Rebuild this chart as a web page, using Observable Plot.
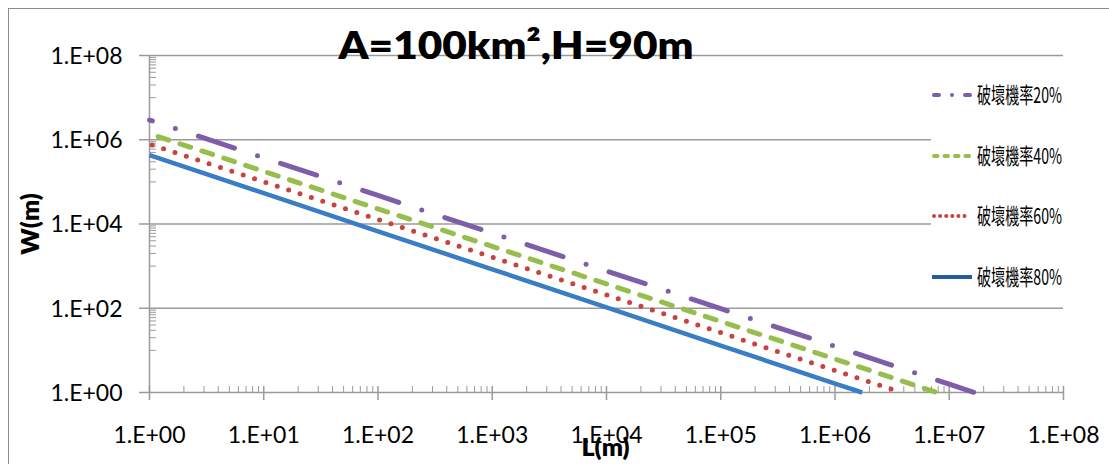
<!DOCTYPE html>
<html>
<head>
<meta charset="utf-8">
<script src="https://cdn.jsdelivr.net/npm/d3@7"></script>
<script src="https://cdn.jsdelivr.net/npm/@observablehq/plot@0.6"></script>
<style>
  html, body { margin: 0; padding: 0; background: #fff; overflow: hidden; }
  #chart { position: relative; width: 1109px; height: 464px; overflow: hidden; }
  #border { position: absolute; left: 8px; top: 8px; width: 1200px; height: 600px;
            border: 1px solid #8c8c8c; box-sizing: border-box; }
  #chart svg { position: absolute; left: 0; top: 0; }
</style>
</head>
<body>
<div id="chart"><div id="border"></div></div>
<script>
// Chart text
const title = "A=100km²,H=90m";
const xLabel = "L(m)";
const yLabel = "W(m)";
const seriesNames = ["破壞機率20%", "破壞機率40%", "破壞機率60%", "破壞機率80%"];

// Length L (m) and width W (m) for each failure probability
const lengths20 = [1, 10, 100, 1e3, 1e4, 1e5, 1e6, 1e7, 1.66e7];
const widths20  = [2.94e6, 3.74e5, 4.75e4, 6.04e3, 767, 97.5, 12.4, 1.57, 1];
const lengths40 = [1, 10, 100, 1e3, 1e4, 1e5, 1e6, 7.8e6];
const widths40  = [1.39e6, 1.78e5, 2.29e4, 2.94e3, 378, 48.6, 6.25, 1];
const lengths60 = [1, 10, 100, 1e3, 1e4, 1e5, 1e6, 3.85e6];
const widths60  = [7.9e5, 1.01e5, 1.28e4, 1.63e3, 207, 26.3, 3.34, 1];
const lengths80 = [1, 10, 100, 1e3, 1e4, 1e5, 1e6, 1.73e6];
const widths80  = [4.3e5, 5.4e4, 6.7e3, 840, 105, 13, 1.63, 1];

// Axis ticks
const xTickValues = [1, 1e1, 1e2, 1e3, 1e4, 1e5, 1e6, 1e7, 1e8];
const xTickLabels = ["1.E+00", "1.E+01", "1.E+02", "1.E+03", "1.E+04", "1.E+05", "1.E+06", "1.E+07", "1.E+08"];
const yTickValues = [1, 1e2, 1e4, 1e6, 1e8];
const yTickLabels = ["1.E+00", "1.E+02", "1.E+04", "1.E+06", "1.E+08"];

// Minor ticks: 2..9 within every decade on x; 1..9 × 10^odd on y
const xMinor = [];
for (let d = 0; d < 8; d++) for (let k = 2; k <= 9; k++) xMinor.push(k * 10 ** d);
const yMinor = [];
for (const n of [1, 3, 5, 7]) for (let k = 1; k <= 9; k++) yMinor.push(k * 10 ** n);

const zip = (ls, ws, name) => ls.map((L, i) => ({L, W: ws[i], series: name}));
const rows20 = zip(lengths20, widths20, seriesNames[0]);
const rows40 = zip(lengths40, widths40, seriesNames[1]);
const rows60 = zip(lengths60, widths60, seriesNames[2]);
const rows80 = zip(lengths80, widths80, seriesNames[3]);

const colors = ["#7f5ea8", "#97bd4d", "#c8423e", "#3b7dc4"];
const legendColors = ["#7f5ea8", "#97bd4d", "#c8423e", "#245c9c"];

const xLabelMap = new Map(xTickValues.map((v, i) => [v, xTickLabels[i]]));
const yLabelMap = new Map(yTickValues.map((v, i) => [v, yTickLabels[i]]));

const grid = "#9b9b9b";

const plot = Plot.plot({
  width: 1109,
  height: 464,
  marginLeft: 149,
  marginRight: 46,
  marginTop: 55,
  marginBottom: 72,
  style: {fontFamily: "Lato, sans-serif", background: "transparent", overflow: "visible", color: "#000"},
  x: {type: "log", domain: [1, 1e8]},
  y: {type: "log", domain: [1, 1e8]},
  marks: [
    // horizontal gridlines (also the major y ticks)
    Plot.ruleY(yTickValues, {y: d => d, x1: 1, x2: 1e8, insetLeft: -10, stroke: grid, strokeWidth: 1.5}),
    // y axis line
    Plot.ruleX([1], {x: d => d, y1: 1, y2: 1e8, stroke: grid, strokeWidth: 1.5}),
    // minor y ticks, inside
    Plot.ruleY(yMinor, {y: d => d, x1: 1, x2: 1, insetRight: -7, stroke: grid, strokeWidth: 1}),
    // major x ticks crossing the axis
    Plot.ruleX(xTickValues, {x: d => d, y1: 1, y2: 1, insetTop: -6, insetBottom: -8, stroke: grid, strokeWidth: 1.5}),
    // minor x ticks, inside
    Plot.ruleX(xMinor, {x: d => d, y1: 1, y2: 1, insetTop: -6, stroke: grid, strokeWidth: 1}),
    Plot.axisY(yTickValues, {tickSize: 0, tickPadding: 27, tickFormat: d => yLabelMap.get(d), fontSize: 23, dy: 1, fill: "#000", label: null}),
    Plot.axisX(xTickValues, {tickSize: 0, tickPadding: 34, tickFormat: d => xLabelMap.get(d), fontSize: 23, fill: "#000", label: null}),
    // series
    Plot.line(rows80, {x: "L", y: "W", stroke: colors[3], strokeWidth: 4.5, strokeLinecap: "butt"}),
    Plot.line(rows60, {x: "L", y: "W", stroke: colors[2], strokeWidth: 5, strokeLinecap: "round",
                       strokeDasharray: "0,11.97", strokeDashoffset: 9.1}),
    Plot.line(rows40, {x: "L", y: "W", stroke: colors[1], strokeWidth: 5, strokeLinecap: "round",
                       strokeDasharray: "11.3,11.74", strokeDashoffset: 14}),
    Plot.line(rows20, {x: "L", y: "W", stroke: colors[0], strokeWidth: 5, strokeLinecap: "round",
                       strokeDasharray: "38,24.25,0,24.25", strokeDashoffset: 35}),
    // titles
    Plot.text([title], {frameAnchor: "top-left", dx: 366.5, dy: -9, textAnchor: "middle", lineAnchor: "middle",
                        fontSize: 38, fontWeight: 800, fill: "#000", className: "chart-title"}),
    Plot.text([xLabel], {frameAnchor: "bottom-left", dx: 456, dy: 55, textAnchor: "middle", lineAnchor: "middle",
                         fontSize: 25, fontWeight: 800, fill: "#000"}),
    Plot.text([yLabel], {frameAnchor: "left", dx: -119, rotate: -90, textAnchor: "middle", lineAnchor: "middle",
                         fontSize: 25, fontWeight: 800, fill: "#000"})
  ]
});

document.getElementById("chart").appendChild(plot);

const svg = d3.select(plot);
// stretch the title to its full printed width
svg.selectAll(".chart-title text").attr("textLength", 355).attr("lengthAdjust", "spacingAndGlyphs");

// Legend drawn on the right, over a white panel
const legend = svg.append("g").attr("class", "legend").attr("text-anchor", "start");
legend.append("rect").attr("x", 931).attr("y", 62).attr("width", 175).attr("height", 238).attr("fill", "#fff");
const legendY = [95, 156, 216, 277];
const legendDash = [
  {dash: "5,13,0,13", cap: "round"},
  {dash: "3.5,7", cap: "round"},
  {dash: "0,6.1", cap: "round"},
  {dash: null, cap: "butt"}
];
seriesNames.forEach((name, i) => {
  const y = legendY[i];
  const round = legendDash[i].cap === "round";
  const line = legend.append("line")
    .attr("x1", round ? 934 : 932).attr("x2", round ? 970 : 972)
    .attr("y1", y).attr("y2", y)
    .attr("stroke", legendColors[i])
    .attr("stroke-width", 4)
    .attr("stroke-linecap", legendDash[i].cap);
  if (legendDash[i].dash) line.attr("stroke-dasharray", legendDash[i].dash);
  legend.append("text")
    .attr("x", 977).attr("y", y + 8)
    .attr("text-anchor", "start")
    .attr("font-family", "'Noto Sans CJK TC', sans-serif")
    .attr("font-size", 22)
    .attr("textLength", 85)
    .attr("lengthAdjust", "spacingAndGlyphs")
    .attr("fill", "#000")
    .text(name);
});
</script>
</body>
</html>
